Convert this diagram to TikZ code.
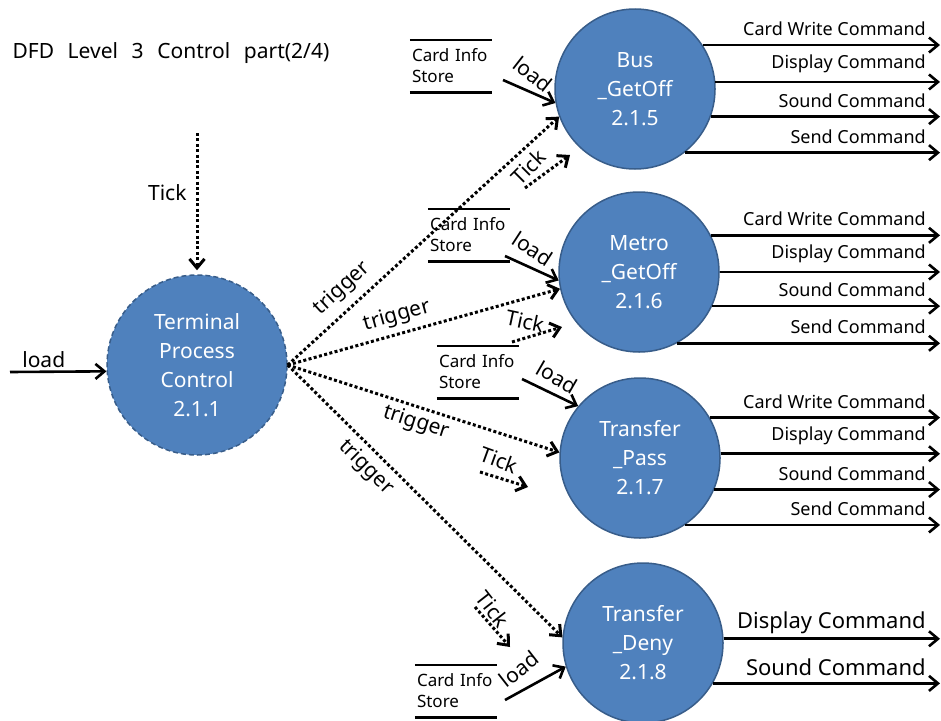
\documentclass[tikz,border=0pt]{standalone}
\usepackage{fontspec}
\setmainfont{Noto Sans}
\usetikzlibrary{arrows.meta, positioning, calc}
\definecolor{procfill}{RGB}{79,129,189}
\definecolor{procline}{RGB}{56,93,138}

\begin{document}
\begin{tikzpicture}[x=1pt, y=-1pt,
    proc/.style={circle, minimum size=160pt, inner sep=0pt, fill=procfill, draw=procline, line width=1.5pt, text=white, align=center, font=\fontsize{21}{29}\selectfont},
    store/.style={minimum width=82pt, minimum height=52pt, inner xsep=2pt, text width=78pt, align=left, font=\fontsize{17}{21}\selectfont},
    flow/.style={line width=2.6pt, -{Straight Barb[length=9pt, width=15pt]}},
    ctrl/.style={flow, line width=3pt, dash pattern=on 3pt off 2.4pt},
    lbl/.style={font=\fontsize{21}{24}\selectfont, inner sep=2pt},
    outlbl/.style={anchor=south east, xshift=-11pt, yshift=6pt, inner sep=2pt, font=\fontsize{18}{20}\selectfont}]
    \useasboundingbox (0,0) rectangle (941,720);
    \coordinate (edge) at (940,0);

    \node[anchor=west, font=\fontsize{21}{24}\selectfont] (title) at (9,53) {DFD\hspace{0.65em}Level\hspace{0.65em}3\hspace{0.65em}Control\hspace{0.65em}part(2/4)};

    % processes
    \node[proc, minimum size=180pt, dash pattern=on 5pt off 3pt] (term) at (197,365) {Terminal\\Process\\Control\\2.1.1};
    \node[proc] (bus) at (635,89) {Bus\\\_GetOff\\2.1.5};
    \node[proc] (metro) at (639,272) {Metro\\\_GetOff\\2.1.6};
    \node[proc] (pass) at (640,458) {Transfer\\\_Pass\\2.1.7};
    \node[proc] (deny) at (643,643) {Transfer\\\_Deny\\2.1.8};

    % stores
    \node[store] (cs5) at (451,66) {Card Info\\Store};
    \node[store] (cs6) at (469,235) {Card Info\\Store};
    \node[store] (cs7) at (478,372) {Card Info\\Store};
    \node[store] (cs8) at (456,691) {Card Info\\Store};
    \foreach \s in {cs5,cs6,cs7,cs8}
        \draw[line width=2.6pt] (\s.north west) -- (\s.north east) (\s.south west) -- (\s.south east);

    % inputs of terminal
    \coordinate (tk) at (197,133);
    \coordinate (ld) at (10,372);
    \draw[ctrl, shorten >=4pt] (tk) -- (term.north) node[lbl, pos=0.42, left=7pt] {Tick};
    \draw[flow] (ld) -- (term.184.5) node[lbl, pos=0.35, above=1pt] {load};

    % triggers
    \draw[ctrl] (term.east) -- (bus.200.5) node[lbl, pos=0.25, sloped, above=6pt] {trigger};
    \draw[ctrl] (term.east) -- (metro.192) node[lbl, pos=0.42, sloped, above=4pt] {trigger};
    \draw[ctrl] (term.east) -- (pass.176) node[lbl, pos=0.49, sloped, below=2pt] {trigger};
    \draw[ctrl] (term.east) -- (deny.176) node[lbl, pos=0.33, sloped, below=4pt] {trigger};

    % loads from stores
    \coordinate (ld5) at (503,80);
    \coordinate (ld6) at (505,256);
    \coordinate (ld7) at (522,379);
    \coordinate (ld8) at (505,700);
    \draw[flow] (ld5) -- (bus.190);
    \draw[flow] (ld6) -- (metro.186);
    \draw[flow] (ld7) -- (pass.140);
    \draw[flow] (ld8) -- (deny.197);
    \node[lbl, rotate=-38] (ll5) at (533,74) {load};
    \node[lbl, rotate=-33] (ll6) at (533,249) {load};
    \node[lbl, rotate=-30] (ll7) at (557,377) {load};
    \node[lbl, rotate=38] (ll8) at (519,669) {load};

    % ticks
    \coordinate (t5a) at (525,188); \coordinate (t5b) at (570,155);
    \coordinate (t6a) at (512,342); \coordinate (t6b) at (562,327);
    \coordinate (t7a) at (480,472); \coordinate (t7b) at (528,487);
    \coordinate (t8a) at (475,607); \coordinate (t8b) at (510,647);
    \foreach \a/\b in {t5a/t5b, t6a/t6b, t7a/t7b, t8a/t8b}
        \draw[ctrl] (\a) -- (\b);
    \node[lbl, rotate=45] (tl5) at (528,167) {Tick};
    \node[lbl, rotate=-12] (tl6) at (525,321) {Tick};
    \node[lbl, rotate=-20] (tl7) at (499,460) {Tick};
    \node[lbl, rotate=-52] (tl8) at (493,609) {Tick};

    % commands
    \foreach \p/\aa/\ab/\ac/\ad in {bus/33.4/5.7/-20.5/-52, metro/27.5/0.7/-25.9/-62.6, pass/30/3.6/-23.6/-56.9}{
        \draw[flow] (\p.\aa) -- (\p.\aa -| edge) node[outlbl] {Card Write Command};
        \draw[flow] (\p.\ab) -- (\p.\ab -| edge) node[outlbl] {Display Command};
        \draw[flow] (\p.\ac) -- (\p.\ac -| edge) node[outlbl] {Sound Command};
        \draw[flow] (\p.\ad) -- (\p.\ad -| edge) node[outlbl] {Send Command};
    }
    \draw[flow] (deny.3.6) -- (deny.3.6 -| edge) node[outlbl, yshift=-4pt, font=\fontsize{22}{24}\selectfont] {Display Command};
    \draw[flow] (deny.-30) -- (deny.-30 -| edge) node[outlbl, yshift=-2pt, font=\fontsize{22}{24}\selectfont] {Sound Command};
\end{tikzpicture}
\end{document}
